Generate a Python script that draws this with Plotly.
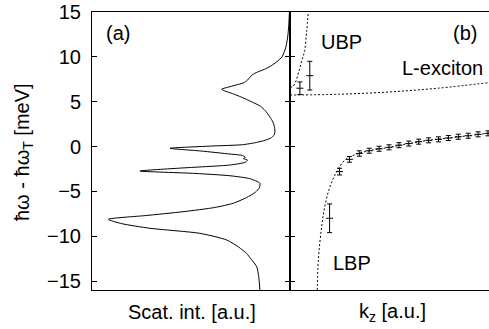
import plotly.graph_objects as go

# ---- Panel (a): scattering intensity spectrum (energy vs. intensity) ----
spec_E = [15.0, 14.0, 13.0, 12.0, 11.0, 10.0, 9.45, 9.0, 8.6, 8.3, 8.0, 7.7, 7.4, 7.1,
          6.85, 6.6, 6.4, 6.2, 5.9, 5.5, 5.0, 4.5, 4.0, 3.5, 3.0, 2.5, 2.0, 1.7,
          1.3, 1.0, 0.7, 0.45, 0.2, 0.05, -0.2, -0.5, -0.84, -1.0, -1.2, -1.35,
          -1.5, -1.75, -2.06, -2.4, -2.73, -3.0, -3.26, -3.6, -4.1, -4.6, -5.1,
          -5.7, -6.33, -6.8, -7.27, -7.7, -8.12, -8.6, -9.12, -9.68, -10.42,
          -11.2, -11.91, -12.6, -13.4, -14.5, -16.0]
spec_I = [0.3, 0.5, 0.8, 1.3, 2.2, 4.0, 6.7, 9.5, 13.0, 16.5, 19.0, 20.3, 21.5, 23.5,
          27.5, 31.5, 34.5, 33.0, 29.0, 24.5, 19.5, 15.0, 12.5, 10.8, 9.3, 8.2, 7.7, 7.6,
          8.0, 9.3, 12.5, 17.0, 24.0, 40.0, 60.6, 45.0, 30.3, 24.0, 22.5, 23.5,
          21.5, 22.5, 30.3, 55.0, 75.8, 48.0, 30.3, 20.0, 15.2, 15.5, 17.5,
          22.0, 28.7, 38.0, 54.0, 73.0, 91.8, 85.0, 70.7, 45.5, 32.0,
          26.0, 22.0, 19.5, 16.8, 15.8, 15.2]

# ---- Panel (b): dispersion curves (dotted) ----
ubp_k = [0.0, 0.3, 0.6, 0.9, 1.2, 1.48, 1.68, 1.85]
ubp_E = [6.6, 6.7, 7.3, 8.4, 9.6, 10.7, 12.8, 15.0]

lexc_k = [0.0, 5.0, 10.0, 15.0, 20.1]
lexc_E = [5.74, 5.83, 6.08, 6.51, 7.12]

lbp_k = [2.76, 2.86, 3.2, 3.54, 4.04, 4.72, 5.56, 6.74, 8.0, 10.0, 12.0, 14.0, 16.0, 18.0, 20.1]
lbp_E = [-16.0, -12.65, -8.94, -6.52, -4.48, -2.81, -1.5, -0.84, -0.47, -0.09, 0.33, 0.69, 0.95, 1.2, 1.5]

# ---- Panel (b): measured points with error bars ----
pts_k = [1, 2, 4, 5, 6, 7, 8, 9, 10, 11, 12, 13, 14, 15, 16, 17, 18, 19, 20]
pts_E = [6.5, 7.9, -8.0, -2.8, -1.43, -0.78, -0.47, -0.25, -0.09, 0.15, 0.33, 0.54,
         0.69, 0.80, 0.95, 1.09, 1.2, 1.36, 1.47]
pts_err = [0.7, 1.6, 1.6, 0.37, 0.32, 0.3, 0.28, 0.28, 0.28, 0.28, 0.28, 0.28,
           0.28, 0.28, 0.28, 0.28, 0.28, 0.28, 0.28]

y_ticks = [-15, -10, -5, 0, 5, 10, 15]

FONT = "Liberation Sans, Arial, sans-serif"
dot = "2px,2px"

W, H = 489, 329
L, T, R = 92, 12, 0
B = H - 290
PW = W - L - R
PH = 290 - T

fig = go.Figure()
fig.add_trace(go.Scatter(x=spec_I, y=spec_E, mode="lines",
                         line=dict(color="black", width=1, shape="spline", smoothing=0.6),
                         xaxis="x", yaxis="y", showlegend=False, hoverinfo="skip"))
for kx, ey in [(ubp_k, ubp_E), (lexc_k, lexc_E), (lbp_k, lbp_E)]:
    fig.add_trace(go.Scatter(x=kx, y=ey, mode="lines",
                             line=dict(color="black", width=1, dash=dot, shape="spline"),
                             xaxis="x2", yaxis="y2", showlegend=False, hoverinfo="skip"))
fig.add_trace(go.Scatter(x=pts_k, y=pts_E, mode="markers",
                         marker=dict(symbol="line-ew", size=5, color="black",
                                     line=dict(color="black", width=1)),
                         error_y=dict(type="data", array=pts_err, visible=True,
                                      color="black", thickness=1, width=2.5),
                         cliponaxis=False, hoverinfo="skip",
                         xaxis="x2", yaxis="y2", showlegend=False))

axis_common = dict(showline=True, linecolor="black", linewidth=1, showgrid=False,
                   zeroline=False)
split = 198 / PW
fig.update_layout(
    width=W, height=H,
    margin=dict(l=L, r=R, t=T, b=B),
    paper_bgcolor="white", plot_bgcolor="white",
    font=dict(family=FONT, size=20, color="black"),
    hovermode=False,
    xaxis=dict(domain=[0, split], range=[100, 0], showticklabels=False, ticks="",
               mirror=True, **axis_common),
    yaxis=dict(range=[-16, 15], tickvals=y_ticks, ticks="inside", ticklen=5,
               tickcolor="black", mirror="ticks", ticklabelstandoff=6,
               tickfont=dict(family=FONT, size=20), anchor="x", **axis_common),
    xaxis2=dict(domain=[split, 1], range=[0, 20.1], showticklabels=False, ticks="",
                mirror=True, anchor="y2", **axis_common),
    yaxis2=dict(range=[-16, 15], tickvals=y_ticks, ticks="inside", ticklen=5,
                tickcolor="black", showticklabels=False, anchor="x2", mirror=True,
                **axis_common),
)

ann = dict(showarrow=False, xanchor="center", yanchor="middle",
           font=dict(family=FONT, size=20, color="black"))


def px(xw):
    return (xw - L) / PW


def py(yw):
    return (290 - yw) / PH


fig.add_annotation(x=86.9, y=12.65, xref="x", yref="y", text="(a)", **ann)
fig.add_annotation(x=17.68, y=12.65, xref="x2", yref="y2", text="(b)", **ann)
fig.add_annotation(x=5.22, y=11.68, xref="x2", yref="y2", text="UBP", **ann)
fig.add_annotation(x=15.45, y=8.72, xref="x2", yref="y2", text="L-exciton", **ann)
fig.add_annotation(x=6.26, y=-12.99, xref="x2", yref="y2", text="LBP", **ann)
fig.add_annotation(x=px(192), y=py(312), xref="paper", yref="paper",
                   text="Scat. int. [a.u.]", **ann)
fig.add_annotation(x=px(392), y=py(312), xref="paper", yref="paper",
                   text="k<sub>z</sub> [a.u.]", **ann)
fig.add_annotation(x=px(23), y=py(152), xref="paper", yref="paper",
                   text="ħω - ħω<sub>T</sub> [meV]", textangle=-90, **ann)

fig.write_html("out.html",
               config={"displayModeBar": False, "staticPlot": True},
               post_script="document.body.style.margin='0px';"
                           "document.body.style.overflow='hidden';")
